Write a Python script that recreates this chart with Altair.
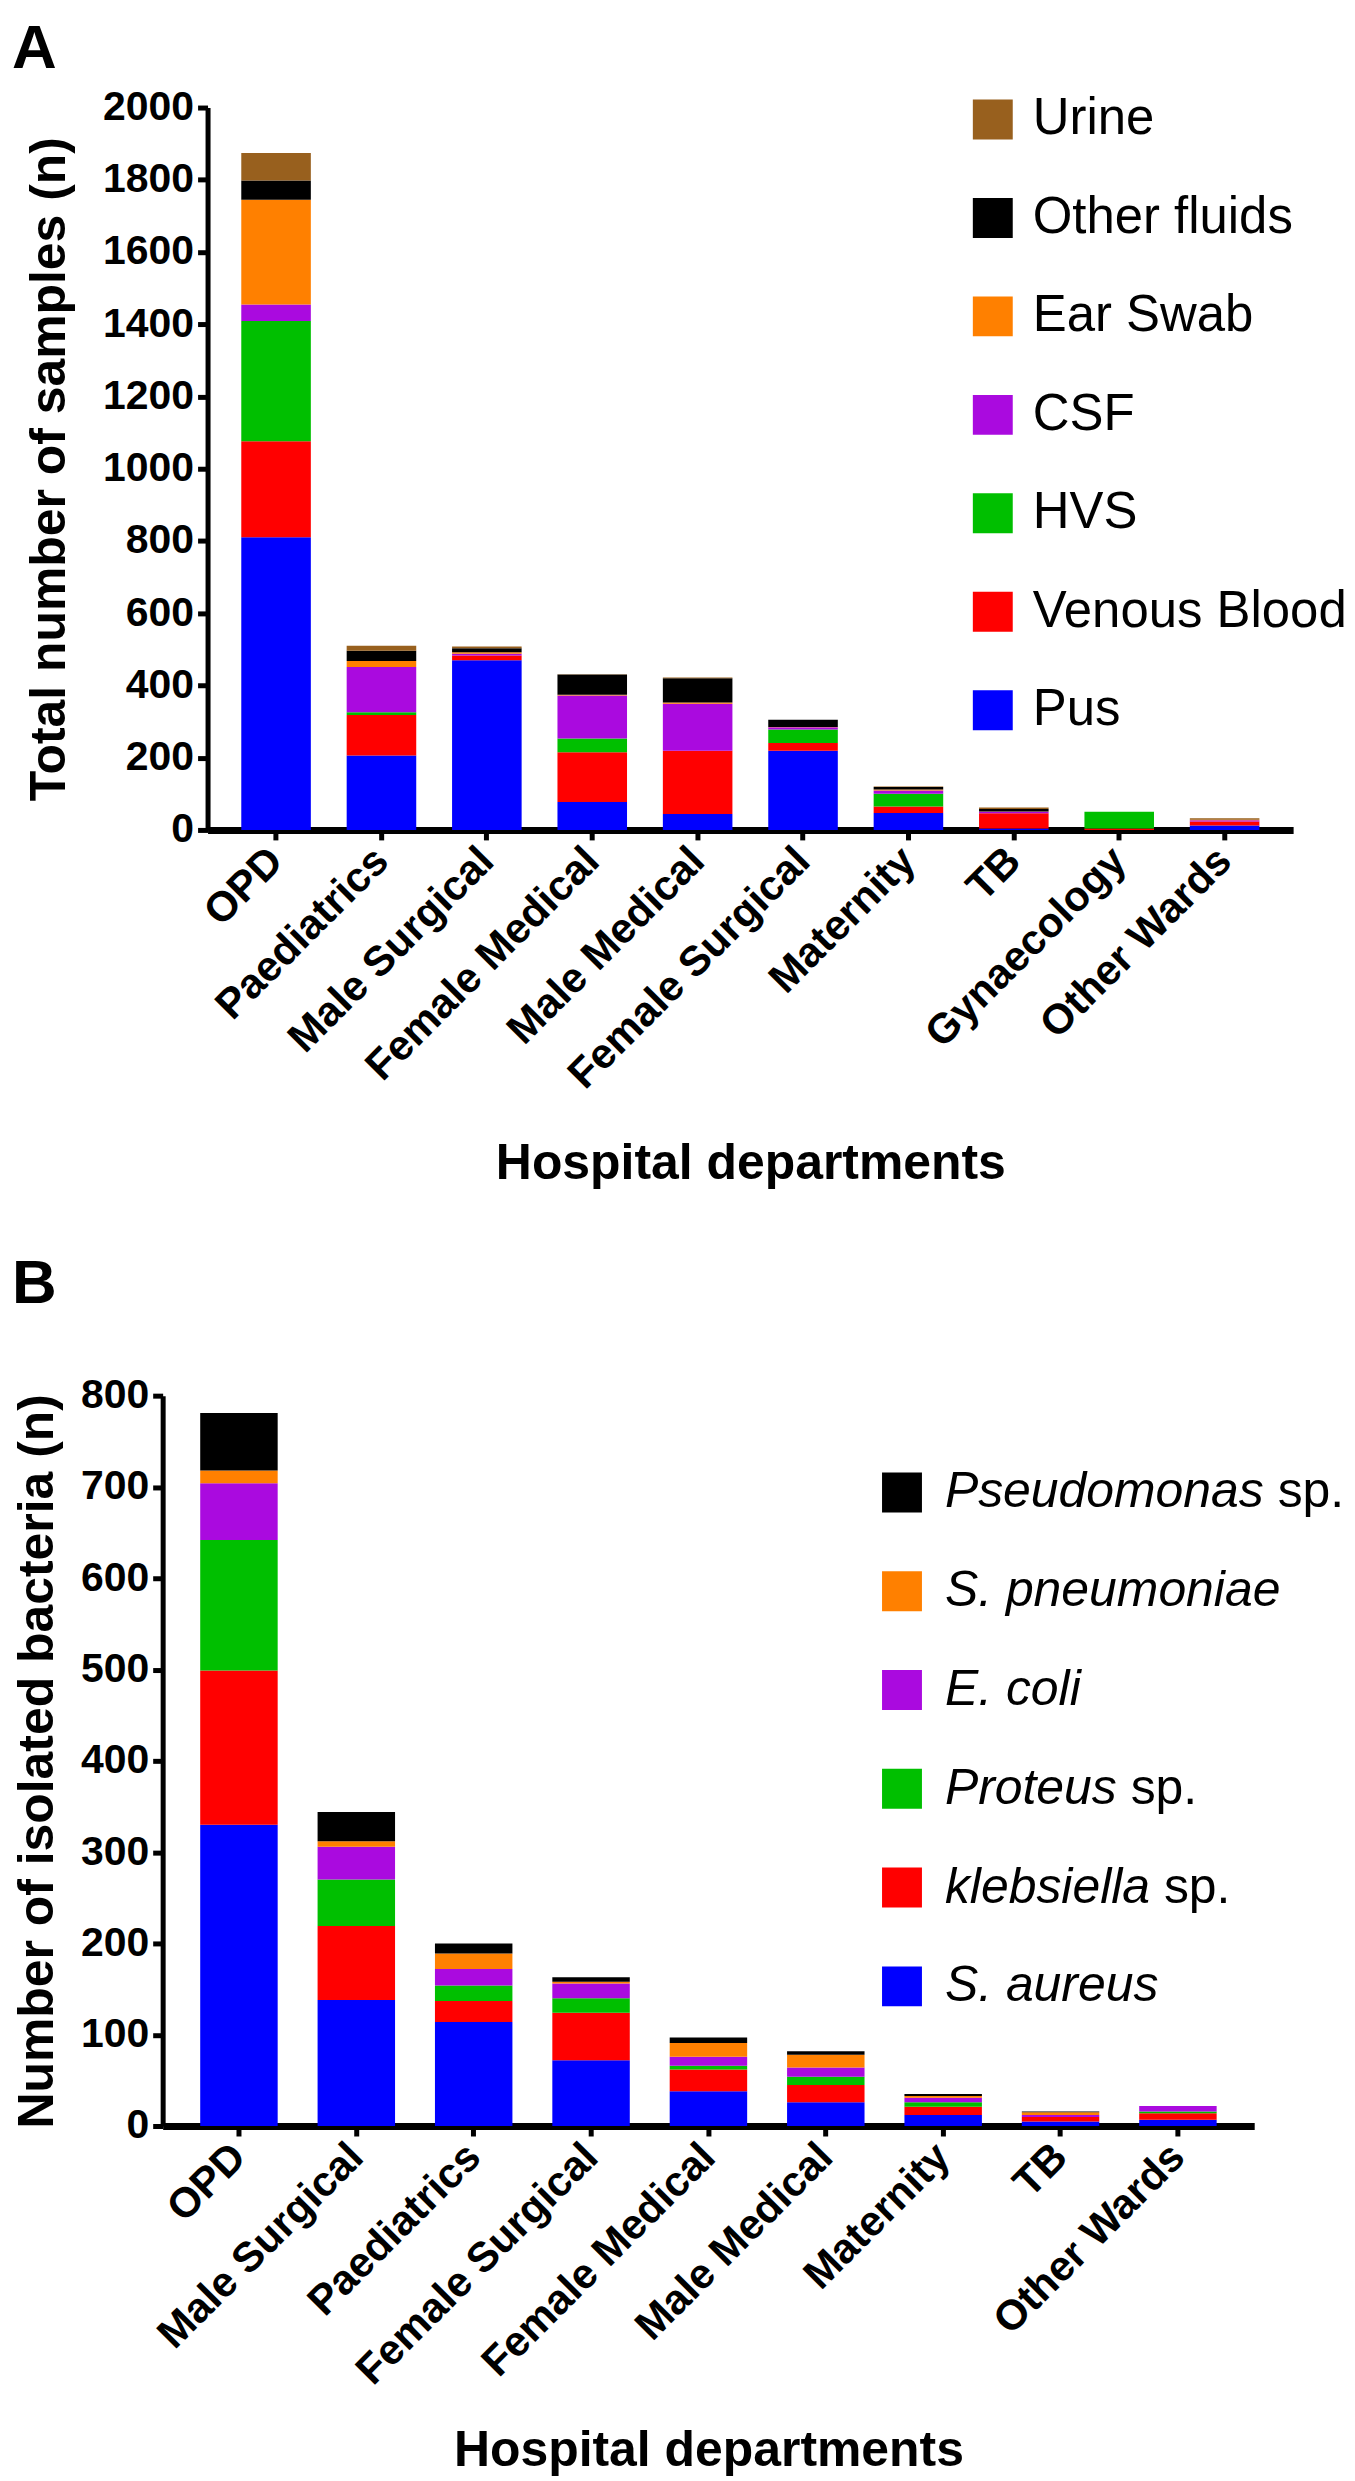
import altair as alt
import pandas as pd

FONT = "Liberation Sans"

# ---------------- Panel A : samples per department ----------------
depts_a = ["OPD", "Paediatrics", "Male Surgical", "Female Medical", "Male Medical",
           "Female Surgical", "Maternity", "TB", "Gynaecology", "Other Wards"]
# stacking order, bottom -> top
sample_types = ["Pus", "Venous Blood", "HVS", "CSF", "Ear Swab", "Other fluids", "Urine"]
pus          = [810, 206, 470, 77, 44, 219, 47, 4, 0, 12]
venous_blood = [266, 112, 13, 138, 175, 22, 18, 42, 4, 11]
hvs          = [333, 8, 0, 38, 0, 37, 35, 0, 46, 0]
csf          = [46, 125, 5, 119, 130, 6, 9, 4, 0, 4]
ear_swab     = [290, 17, 4, 2, 4, 1, 3, 1, 0, 1]
other_fluids = [53, 28, 11, 56, 67, 20, 7, 7, 0, 0]
urine        = [76, 14, 5, 1, 2, 0, 1, 4, 0, 4]
colors_a = ["#0000FF", "#FF0000", "#00BF00", "#AA0ADF", "#FF8000", "#000000", "#98601E"]
yticks_a = [0, 200, 400, 600, 800, 1000, 1200, 1400, 1600, 1800, 2000]

# ---------------- Panel B : isolated bacteria per department ----------------
depts_b = ["OPD", "Male Surgical", "Paediatrics", "Female Surgical", "Female Medical",
           "Male Medical", "Maternity", "TB", "Other Wards"]
species = ["S. aureus", "klebsiella sp.", "Proteus sp.", "E. coli", "S. pneumoniae", "Pseudomonas sp."]
species_italic = ["S. aureus", "klebsiella", "Proteus", "E. coli", "S. pneumoniae", "Pseudomonas"]
species_plain = ["", "sp.", "sp.", "", "", "sp."]
s_aureus     = [330, 138, 114, 72, 38, 26, 12, 5, 7]
klebsiella   = [169, 81, 23, 52, 24, 19, 9, 5, 7]
proteus      = [143, 51, 17, 16, 4, 9, 5, 0, 2]
e_coli       = [62, 36, 18, 16, 10, 10, 5, 2, 6]
s_pneumoniae = [14, 6, 17, 2, 15, 14, 2, 3, 0]
pseudomonas  = [63, 32, 11, 5, 6, 4, 2, 1, 0]
colors_b = ["#0000FF", "#FF0000", "#00BF00", "#AA0ADF", "#FF8000", "#000000"]
yticks_b = [0, 100, 200, 300, 400, 500, 600, 700, 800]

# Helvetica/Arial advance widths (per 1000 em) used to place the upright "sp." after italic text
ADV = {"P": 667, "s": 500, "e": 556, "u": 556, "d": 556, "o": 556, "m": 833, "n": 556,
       "a": 556, "r": 333, "t": 278, "k": 500, "l": 222, "b": 556, "i": 222, " ": 278,
       "S": 667, ".": 278, "p": 556, "E": 667, "c": 500}


def long_df(depts, cats, series):
    rows = []
    for rank, (cat, vals) in enumerate(zip(cats, series)):
        for d, v in zip(depts, vals):
            rows.append({"dept": d, "type": cat, "n": v, "rank": rank})
    return pd.DataFrame(rows)


def panel(df, depts, cats, colors, ymax, yticks, ytitle, width, height, x_range, y_offset,
          ytitle_pad, xtitle_y, letter, letter_size, letter_offset, leg_range, sq_x, tx,
          italic, plain, fs, italic_legend):
    legend_order = list(reversed(cats))
    color_scale = alt.Scale(domain=legend_order, range=list(reversed(colors)))

    xscale = alt.Scale(paddingInner=0.34, paddingOuter=0.32)
    if x_range is not None:
        xscale = alt.Scale(paddingInner=0.34, paddingOuter=0.32, range=x_range)

    bars = alt.Chart(df).mark_bar().encode(
        x=alt.X("dept:N", sort=depts, scale=xscale,
                axis=alt.Axis(title="Hospital departments", labelAngle=-45,
                              labelAlign="right", labelBaseline="middle",
                              labelOverlap=False, labelLimit=0, labelPadding=14,
                              labelFontSize=42, titleY=xtitle_y, titleBaseline="top")),
        y=alt.Y("n:Q", stack="zero",
                scale=alt.Scale(domain=[0, ymax], nice=False),
                axis=alt.Axis(values=yticks, format="d", title=ytitle,
                              titlePadding=ytitle_pad, offset=y_offset,
                              labelFontSize=41, labelPadding=4)),
        color=alt.Color("type:N", scale=color_scale, legend=None),
        order=alt.Order("rank:Q", sort="ascending"),
    )

    rows = []
    for c, it, pl in zip(cats, italic, plain):
        w = sum(ADV.get(ch, 556) for ch in it) + ADV[" "]
        rows.append({"type": c, "italic": it, "plain": pl, "sp_x": tx + w * fs / 1000.0})
    leg_df = pd.DataFrame(rows)

    leg_y = alt.Y("type:N", scale=alt.Scale(type="point", domain=legend_order,
                                             range=leg_range, padding=0), axis=None)
    squares = alt.Chart(leg_df).mark_square(size=1600, opacity=1).encode(
        x=alt.value(sq_x), y=leg_y,
        color=alt.Color("type:N", scale=color_scale, legend=None))
    txt1 = alt.Chart(leg_df).mark_text(
        align="left", baseline="middle", fontSize=fs, font=FONT,
        fontStyle="italic" if italic_legend else "normal", color="black").encode(
        x=alt.value(tx), y=leg_y, text="italic:N")
    layers = [bars, squares, txt1]
    if any(p for p in plain):
        txt2 = alt.Chart(leg_df).mark_text(align="left", baseline="middle", fontSize=fs,
                                           font=FONT, color="black").encode(
            x=alt.X("sp_x:Q", scale=None, axis=None), y=leg_y, text="plain:N")
        layers.append(txt2)

    return alt.layer(*layers).resolve_scale(y="independent").properties(
        width=width, height=height,
        title=alt.TitleParams(letter, anchor="start", frame="group", dx=-151,
                              fontSize=letter_size, font=FONT, fontWeight="bold",
                              color="black", offset=letter_offset),
    )


df_a = long_df(depts_a, sample_types,
               [pus, venous_blood, hvs, csf, ear_swab, other_fluids, urine])
df_b = long_df(depts_b, species,
               [s_aureus, klebsiella, proteus, e_coli, s_pneumoniae, pseudomonas])

panel_a = panel(df_a, depts_a, sample_types, colors_a, 2000, yticks_a,
                "Total number of samples (n)", 1133, 724, [45, 1133], -45, 28, 309,
                "A", 62, 6, [12, 604], 832, 872, sample_types, [""] * 7, 51, False)
panel_b = panel(df_b, depts_b, species, colors_b, 800, yticks_b,
                "Number of isolated bacteria (n)", 1094, 732, None, 0, 18, 300,
                "B", 62, 59, [97, 592], 741, 784, species_italic, species_plain, 50, True)

chart = alt.concat(panel_a, panel_b, columns=1, spacing=65).resolve_scale(
    color="independent"
).properties(
    padding={"left": 4, "top": 7, "right": 0, "bottom": 0},
    background="white",
).configure_view(stroke=None).configure_axis(
    domainColor="black", domainWidth=6, tickColor="black", tickWidth=5, tickSize=10,
    labelFont=FONT, labelFontWeight="bold", labelColor="black",
    titleFont=FONT, titleFontSize=50, titleFontWeight="bold", titleColor="black",
    grid=False,
).configure_axisX(domainWidth=7).configure_axisY(domainWidth=5)

chart.save("out.html", embed_options={"renderer": "svg", "actions": False})
